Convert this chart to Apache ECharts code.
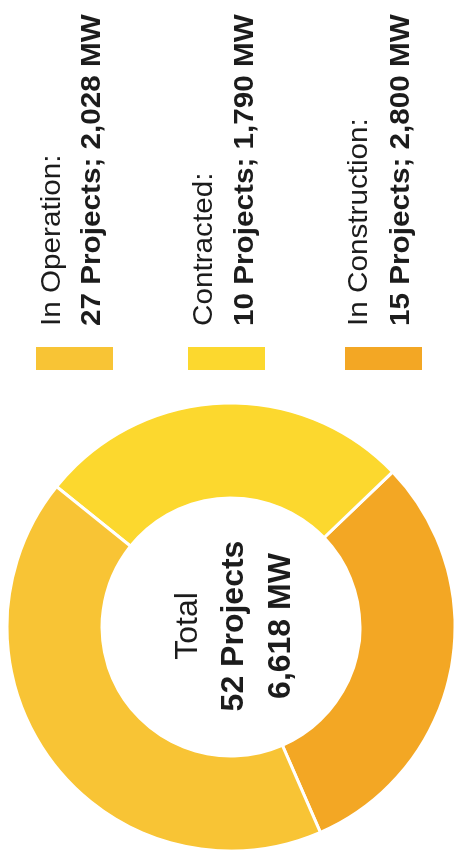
<!DOCTYPE html>
<html>
<head>
<meta charset="utf-8">
<script src="https://cdn.jsdelivr.net/npm/echarts@6/dist/echarts.min.js"></script>
<style>
  html, body { margin: 0; padding: 0; background: #ffffff; width: 454px; height: 856px; overflow: hidden; }
  /* The reference is a landscape chart turned a quarter-turn counter-clockwise */
  #wrap { position: absolute; left: -201px; top: 201px; width: 856px; height: 454px;
          transform: rotate(-90deg); transform-origin: 50% 50%; }
  #chart { width: 856px; height: 454px; }
</style>
</head>
<body>
<div id="wrap"><div id="chart"></div></div>
<script>
// ---- data ----
const categories = ['In Operation', 'Contracted', 'In Construction'];
const projects   = [27, 10, 15];
const capacityMW = [2028, 1790, 2800];
const totalLabel = 'Total';

// ---- styles ----
const legendColors = ['#F8C435', '#FCD82E', '#F3A724'];
// slice colours as they appear in the source doughnut
const sliceColors  = ['#F3A724', '#FCD82E', '#F8C435'];
const FONT = '"Liberation Sans", Arial, Helvetica, sans-serif';
const TXT = '#1c1c1c';

const fmt = n => n.toLocaleString('en-US');
const totalProjects = projects.reduce((a, b) => a + b, 0);
const totalMW = capacityMW.reduce((a, b) => a + b, 0);

const chart = echarts.init(document.getElementById('chart'), null, { renderer: 'canvas' });

function txt(x, y, text, size, bold, align, sx) {
  return {
    type: 'text', x: x, y: y, scaleX: sx || 1, silent: true,
    style: {
      text: text, font: (bold ? 'bold ' : '') + size + 'px ' + FONT, fill: TXT,
      align: align, verticalAlign: 'middle', textAlign: align, textVerticalAlign: 'middle'
    }
  };
}

const graphics = [];
const itemTops = [36, 188, 345];
const line1 = [52, 204, 359];
const line2 = [92, 245, 401];
categories.forEach((c, i) => {
  graphics.push({ type: 'rect', silent: true,
    shape: { x: 486, y: itemTops[i], width: 23, height: 77 },
    style: { fill: legendColors[i] } });
  graphics.push(txt(530, line1[i], c + ':', 28, false, 'left', 1.06));
  graphics.push(txt(530, line2[i], projects[i] + ' Projects; ' + fmt(capacityMW[i]) + ' MW', 28, true, 'left', 1.06));
});
graphics.push(txt(230, 188, totalLabel, 32, false, 'center'));
graphics.push(txt(230, 234, totalProjects + ' Projects', 32, true, 'center'));
graphics.push(txt(230, 281, fmt(totalMW) + ' MW', 32, true, 'center'));

chart.setOption({
  animation: false,
  backgroundColor: '#ffffff',
  series: [{
    type: 'pie',
    center: [229, 231],
    radius: [129, 224],
    startAngle: 203.5,
    clockwise: false,
    silent: true,
    label: { show: false },
    labelLine: { show: false },
    emphasis: { disabled: true },
    itemStyle: { borderColor: '#ffffff', borderWidth: 3 },
    data: categories.map((c, i) => ({ name: c, value: capacityMW[i], itemStyle: { color: sliceColors[i] } }))
  }],
  graphic: { elements: graphics }
});
</script>
</body>
</html>
